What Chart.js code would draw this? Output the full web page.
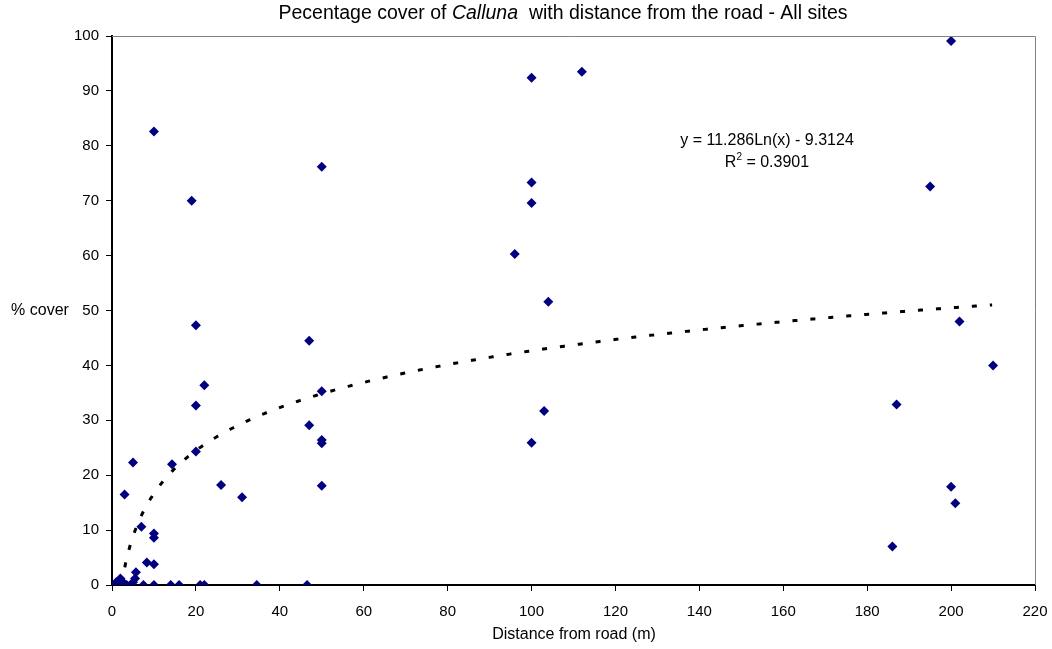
<!DOCTYPE html>
<html>
<head>
<meta charset="utf-8">
<script src="https://cdn.jsdelivr.net/npm/chart.js@4/dist/chart.umd.min.js"></script>
<style>
  html, body { margin: 0; padding: 0; background: #fff; }
  #wrap { width: 1052px; height: 649px; }
</style>
</head>
<body>
<div id="wrap"><canvas id="coverChart" width="1052" height="649"></canvas></div>
<script>
// Distance from road (m) and % cover of Calluna for each quadrat
const distance = [
    1, 1.5, 2, 2.5, 3, 5, 5, 5.5, 5.7, 7, 8.3, 10, 10, 10, 10, 14.3,
    19, 20, 20, 20, 22, 26, 31, 47, 47, 50, 50, 50, 50, 50,
    96, 100, 100, 100, 100, 103, 104, 112,
    186, 187, 195, 200, 200, 201, 202, 210,
    0.5, 1, 1.5, 2.5, 3.5, 4.5, 7.5, 10, 14, 16, 21, 22, 34.5, 46.5
];
const cover = [
    0.5, 0.3, 1.2, 0.6, 16.5, 22.3, 0.5, 1.2, 2.3, 10.6, 4.1, 82.6, 9.4, 8.6, 3.8, 22,
    70, 47.3, 32.7, 24.3, 36.4, 18.2, 16, 44.5, 29.1, 76.2, 35.3, 26.4, 25.8, 18.1,
    60.3, 92.4, 73.3, 69.6, 25.9, 31.7, 51.6, 93.5,
    7, 32.9, 72.6, 99.1, 17.9, 14.9, 48, 40,
    0, 0, 0, 0, 0, 0, 0, 0, 0, 0, 0, 0, 0, 0
];

// Logarithmic trend line: y = 11.286 ln(x) - 9.3124
const trendA = 11.286;
const trendB = -9.3124;
const trendStart = 2.28;
const trendEnd = 210;

const xTicks = [0, 20, 40, 60, 80, 100, 120, 140, 160, 180, 200, 220];
const yTicks = [0, 10, 20, 30, 40, 50, 60, 70, 80, 90, 100];

const points = distance.map((d, i) => ({ x: d, y: cover[i] }));
const trend = [];
for (let x = trendStart; x <= trendEnd; x += 0.5) {
    trend.push({ x: x, y: trendA * Math.log(x) + trendB });
}

const FONT = '"Liberation Sans", Arial, sans-serif';

// Title, axis captions, equation and plot frame drawn straight onto the canvas
const annotations = {
    id: 'annotations',
    afterDraw(chart) {
        const { ctx, chartArea: a } = chart;
        ctx.save();

        // plot area frame (top and right)
        ctx.strokeStyle = '#808080';
        ctx.lineWidth = 1;
        ctx.beginPath();
        ctx.moveTo(a.left, a.top + 0.5);
        ctx.lineTo(a.right + 0.5, a.top + 0.5);
        ctx.lineTo(a.right + 0.5, a.bottom);
        ctx.stroke();

        ctx.fillStyle = '#000';
        ctx.textBaseline = 'middle';

        // title with italic genus name
        const parts = [
            ['Pecentage cover of ', 'normal'],
            ['Calluna', 'italic'],
            ['  with distance from the road - All sites', 'normal']
        ];
        let total = 0;
        parts.forEach(p => {
            ctx.font = p[1] + ' 19.5px ' + FONT;
            total += ctx.measureText(p[0]).width;
        });
        let tx = 563 - total / 2;
        ctx.textAlign = 'left';
        parts.forEach(p => {
            ctx.font = p[1] + ' 19.5px ' + FONT;
            ctx.fillText(p[0], tx, 14);
            tx += ctx.measureText(p[0]).width;
        });

        ctx.font = '16px ' + FONT;
        ctx.textAlign = 'center';
        ctx.fillText('% cover', 40, 311);
        ctx.fillText('Distance from road (m)', 574, 635);

        // trend line equation
        ctx.fillText('y = 11.286Ln(x) - 9.3124', 767, 141);
        const r = 'R';
        const rest = ' = 0.3901';
        const wR = ctx.measureText(r).width;
        ctx.font = '10px ' + FONT;
        const wS = ctx.measureText('2').width;
        ctx.font = '16px ' + FONT;
        const wRest = ctx.measureText(rest).width;
        let ex = 767 - (wR + wS + wRest) / 2;
        ctx.textAlign = 'left';
        ctx.fillText(r, ex, 163);
        ex += wR;
        ctx.font = '10px ' + FONT;
        ctx.fillText('2', ex, 157);
        ex += wS;
        ctx.font = '16px ' + FONT;
        ctx.fillText(rest, ex, 163);

        ctx.restore();
    }
};

new Chart(document.getElementById('coverChart'), {
    type: 'scatter',
    data: {
        datasets: [{
            label: '% cover',
            data: points,
            pointStyle: 'rectRot',
            pointRadius: 5,
            backgroundColor: '#000080',
            borderColor: '#000080',
            borderWidth: 0,
            order: 1
        }, {
            label: 'Log. trend',
            data: trend,
            showLine: true,
            pointRadius: 0,
            borderColor: '#000',
            borderWidth: 3,
            borderDash: [5, 13],
            fill: false,
            order: 2
        }]
    },
    options: {
        responsive: false,
        animation: false,
        layout: { padding: { top: 36, right: 0, left: 0, bottom: 0 } },
        plugins: {
            legend: { display: false },
            tooltip: { enabled: false }
        },
        scales: {
            x: {
                type: 'linear',
                min: 0,
                max: 220,
                afterBuildTicks: scale => { scale.ticks = xTicks.map(v => ({ value: v })); },
                afterFit: scale => {
                    scale.height = 64;
                    scale.paddingRight = 17;
                    scale.paddingLeft = 0;
                },
                border: { color: '#000', width: 2 },
                grid: { display: true, drawOnChartArea: false, tickLength: 6, color: '#000' },
                ticks: { color: '#000', padding: 12, font: { family: FONT, size: 15 } }
            },
            y: {
                type: 'linear',
                min: 0,
                max: 100,
                afterBuildTicks: scale => { scale.ticks = yTicks.map(v => ({ value: v })); },
                afterFit: scale => { scale.width = 112; },
                border: { color: '#000', width: 2 },
                grid: { display: true, drawOnChartArea: false, tickLength: 6, color: '#000' },
                ticks: { color: '#000', padding: 7, font: { family: FONT, size: 15 } }
            }
        }
    },
    plugins: [annotations]
});
</script>
</body>
</html>
